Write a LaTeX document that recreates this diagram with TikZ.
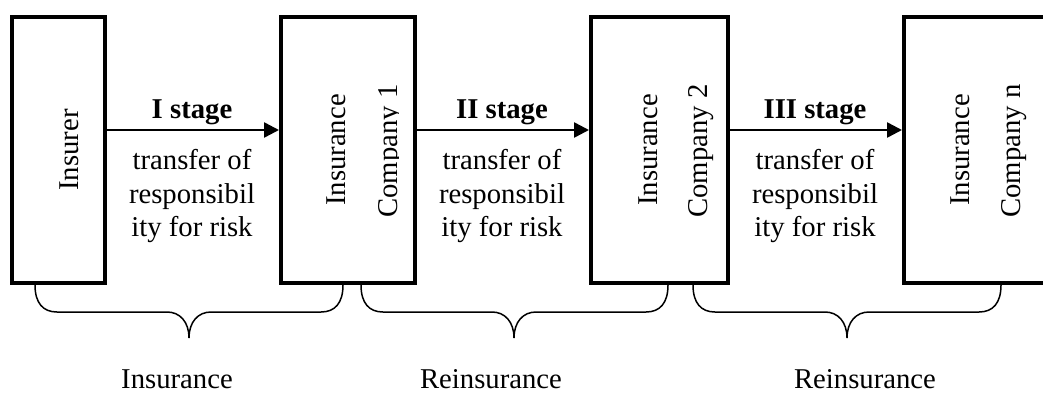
\documentclass[tikz,border=0pt]{standalone}
\usepackage{fontspec}
\setmainfont{Liberation Serif}
\usetikzlibrary{arrows.meta}
\begin{document}
\begin{tikzpicture}[x=1pt,y=-1pt,
  font=\fontsize{28.7}{33.5}\selectfont,
  box/.style={draw,line width=4pt,minimum width=#1,minimum height=266.5pt,inner sep=0pt},
  vlab/.style={rotate=90,anchor=base,inner sep=0pt},
  stagelab/.style={anchor=base,inner sep=0pt,font=\fontsize{28.7}{33.5}\selectfont\bfseries},
  desc/.style={align=center,inner sep=0pt},
  bottomlab/.style={anchor=base,inner sep=0pt},
  arr/.style={line width=2.5pt,-{Triangle[length=15pt,width=15pt]}},
  bracestyle/.style={line width=1.5pt}
]
\useasboundingbox (0,0) rectangle (1043,394);

% boxes
\node[box=92.5pt]  (b1) at (58.25,149.75) {};
\node[box=134pt]   (b2) at (348,149.75) {};
\node[box=137pt]   (b3) at (659.5,149.75) {};
\node[box=156pt]   (b4) at (982,149.75) {};

% box labels
\node[vlab] (l1) at (78,150) {Insurer};
\node[vlab] (l2a) at (345,150) {Insurance};
\begin{scope}
  \clip (300,0) rectangle (398,394);
  \node[vlab] (l2b) at (397,151) {Company 1};
\end{scope}
\node[vlab] (l3a) at (657,150) {Insurance};
\node[vlab] (l3b) at (707,151) {Company 2};
\node[vlab] (l4a) at (969,150) {Insurance};
\node[vlab] (l4b) at (1020,151) {Company n};

% arrows
\draw[arr] ([yshift=19.75pt]b1.east) -- ([yshift=19.75pt]b2.west);
\draw[arr] ([yshift=19.75pt]b2.east) -- ([yshift=19.75pt]b3.west);
\draw[arr] ([yshift=19.75pt]b3.east) -- ([yshift=19.75pt]b4.west);

% stage labels
\node[stagelab] (s1) at (192,118) {I stage};
\node[stagelab] (s2) at (502,118) {II stage};
\node[stagelab] (s3) at (815,118) {III stage};

% descriptions
\node[desc] (d1) at (192,196) {transfer of\\responsibil\\ity for risk};
\node[desc] (d2) at (502,196) {transfer of\\responsibil\\ity for risk};
\node[desc] (d3) at (815,196) {transfer of\\responsibil\\ity for risk};

% braces
\foreach \xa/\xt/\xb in {35/189/343, 361/514/668, 693/847/1001}{
  \draw[bracestyle] (\xa,285) .. controls (\xa,303) and (\xa+8,312) .. (\xa+22,312)
    -- (\xt-22,312) .. controls (\xt-9,312) and (\xt,322) .. (\xt,338)
    .. controls (\xt,322) and (\xt+9,312) .. (\xt+22,312)
    -- (\xb-22,312) .. controls (\xb-8,312) and (\xb,303) .. (\xb,285);
}

% bottom labels
\node[bottomlab] (g1) at (177,388) {Insurance};
\node[bottomlab] (g2) at (491,388) {Reinsurance};
\node[bottomlab] (g3) at (865,388) {Reinsurance};
\end{tikzpicture}
\end{document}
